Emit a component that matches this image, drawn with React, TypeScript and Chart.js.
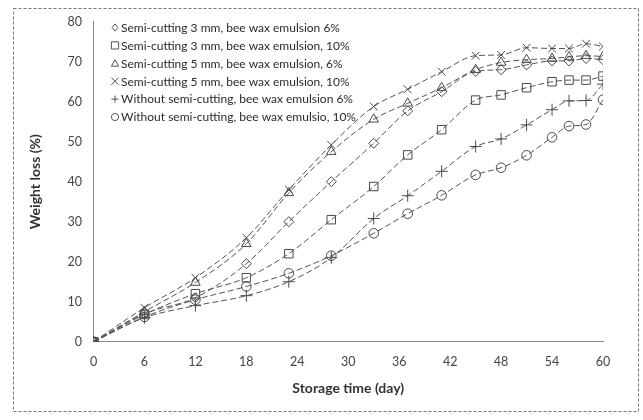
import React, { useEffect, useRef } from 'react';
import { Chart, registerables } from 'chart.js';

Chart.register(...registerables);

const days = [0, 6, 12, 18, 23, 28, 33, 37, 41, 45, 48, 51, 54, 56, 58, 60];
const seriesLabels = [
  'Semi-cutting 3 mm, bee wax emulsion 6%',
  'Semi-cutting 3 mm, bee wax emulsion, 10%',
  'Semi-cutting 5 mm, bee wax emulsion, 6%',
  'Semi-cutting 5 mm, bee wax emulsion, 10%',
  'Without semi-cutting, bee wax emulsion 6%',
  'Without semi-cutting, bee wax emulsio, 10%',
];
const cut3Wax6 = [0, 7, 11, 19.5, 30, 40, 49.6, 57.7, 62.5, 67.6, 68, 69.2, 70.2, 70.2, 70.8, 70.5];
const cut3Wax10 = [0, 6.8, 12, 16, 22, 30.5, 38.8, 46.7, 53, 60.4, 61.7, 63.5, 65, 65.4, 65.4, 66.4];
const cut5Wax6 = [0, 7.5, 14.8, 24.5, 37.2, 47.5, 55.6, 59.6, 63.5, 68, 69.8, 70.5, 70.8, 71.2, 71.5, 71.3];
const cut5Wax10 = [0, 8.5, 16, 26, 38, 49.2, 58.8, 63.1, 67.5, 71.5, 71.7, 73.5, 73.3, 73.3, 74.5, 73.8];
const noCutWax6 = [0, 6, 9, 11.5, 15, 21, 30.8, 36.5, 42.6, 48.8, 50.7, 54.2, 58, 60.2, 60.3, 64.4];
const noCutWax10 = [0, 6.2, 10.5, 13.8, 17.1, 21.5, 27.1, 32, 36.6, 41.7, 43.5, 46.6, 51.1, 53.9, 54.3, 60.5];
const xTicks = [0, 6, 12, 18, 24, 30, 36, 42, 48, 54, 60];
const yTicks = [0, 10, 20, 30, 40, 50, 60, 70, 80];

const seriesValues = [cut3Wax6, cut3Wax10, cut5Wax6, cut5Wax10, noCutWax6, noCutWax10];
const pointStyles = ['rectRot', 'rect', 'triangle', 'crossRot', 'cross', 'circle'];
const pointRadii = [5, 6, 5.5, 5.5, 6, 4.8];

const INK = '#4a4a4a';

function drawSymbol(ctx: CanvasRenderingContext2D, style: string, x: number, y: number, r: number) {
  ctx.beginPath();
  if (style === 'rectRot') {
    ctx.moveTo(x, y - r); ctx.lineTo(x + r * 0.8, y); ctx.lineTo(x, y + r); ctx.lineTo(x - r * 0.8, y); ctx.closePath();
  } else if (style === 'rect') {
    ctx.rect(x - r, y - r, 2 * r, 2 * r);
  } else if (style === 'triangle') {
    ctx.moveTo(x, y - r); ctx.lineTo(x + r, y + r * 0.8); ctx.lineTo(x - r, y + r * 0.8); ctx.closePath();
  } else if (style === 'crossRot') {
    ctx.moveTo(x - r, y - r); ctx.lineTo(x + r, y + r); ctx.moveTo(x + r, y - r); ctx.lineTo(x - r, y + r);
  } else if (style === 'cross') {
    ctx.moveTo(x - r, y); ctx.lineTo(x + r, y); ctx.moveTo(x, y - r); ctx.lineTo(x, y + r);
  } else {
    ctx.arc(x, y, r, 0, Math.PI * 2);
  }
  ctx.stroke();
}

const framePlugin = {
  id: 'frame',
  beforeDraw(chart: any) {
    const ctx = chart.ctx;
    ctx.save();
    ctx.fillStyle = '#ffffff';
    ctx.fillRect(0, 0, chart.width, chart.height);
    ctx.strokeStyle = '#777';
    ctx.lineWidth = 1;
    ctx.setLineDash([3, 2]);
    ctx.strokeRect(13.5, 8.5, 625, 403);
    ctx.restore();
  },
};

const legendPlugin = {
  id: 'customLegend',
  afterDraw(chart: any) {
    const ctx = chart.ctx;
    ctx.save();
    ctx.font = '12px Lato';
    ctx.textBaseline = 'middle';
    ctx.textAlign = 'left';
    seriesLabels.forEach((label, i) => {
      const y = 27.5 + i * 17.9;
      ctx.strokeStyle = '#555';
      ctx.lineWidth = 1;
      ctx.setLineDash([]);
      drawSymbol(ctx, pointStyles[i], 115, y, 3.6);
      ctx.fillStyle = '#2a2a2a';
      ctx.fillText(label, 121, y + 0.5);
    });
    ctx.restore();
  },
};

export default function App() {
  const ref = useRef<HTMLCanvasElement | null>(null);
  useEffect(() => {
    if (!ref.current) return;
    const datasets = seriesValues.map((vals, i) => ({
      label: seriesLabels[i],
      data: days.map((d, j) => ({ x: d, y: vals[j] })),
      borderColor: '#555',
      borderWidth: 1,
      borderDash: [6, 3],
      backgroundColor: 'rgba(0,0,0,0)',
      pointStyle: pointStyles[i],
      pointRadius: pointRadii[i],
      pointBorderColor: INK,
      pointBackgroundColor: 'rgba(0,0,0,0)',
      pointBorderWidth: 1,
      cubicInterpolationMode: 'monotone' as const,
      fill: false,
    }));
    const chart = new Chart(ref.current, {
      type: 'line',
      data: { datasets },
      options: {
        animation: false,
        responsive: false,
        maintainAspectRatio: false,
        devicePixelRatio: 1,
        layout: { padding: { left: 0, right: 40, top: 21.7, bottom: 0 } },
        plugins: { legend: { display: false }, tooltip: { enabled: false } },
        scales: {
          x: {
            type: 'linear',
            min: 0,
            max: 60,
            afterBuildTicks: (s: any) => { s.ticks = xTicks.map((v) => ({ value: v })); },
            afterFit: (s: any) => { s.height = 420 - 341.7; },
            grid: { display: false, drawTicks: false },
            border: { display: true, color: '#8a8a8a', dash: [2, 2], width: 1 },
            ticks: { font: { family: 'Lato', size: 12.5 }, color: '#444', padding: 13, maxRotation: 0 },
            title: {
              display: true,
              text: 'Storage time (day)',
              font: { family: 'Lato', size: 14, weight: 'bold' },
              color: '#333',
              padding: { top: 0, bottom: 23.6 },
            },
          },
          y: {
            type: 'linear',
            min: 0,
            max: 80,
            afterBuildTicks: (s: any) => { s.ticks = yTicks.map((v) => ({ value: v })); },
            afterFit: (s: any) => { s.width = 93.5; },
            grid: { display: false, drawTicks: false },
            border: { display: true, color: '#8a8a8a', dash: [2, 2], width: 1 },
            ticks: { font: { family: 'Lato', size: 12.5 }, color: '#444', padding: 11.5 },
            title: {
              display: true,
              text: 'Weight loss (%)',
              font: { family: 'Lato', size: 14, weight: 'bold' },
              color: '#333',
              padding: { top: 26.6, bottom: 0 },
            },
          },
        },
      },
      plugins: [framePlugin, legendPlugin],
    } as any);
    return () => chart.destroy();
  }, []);
  return (
    <div style={{ position: 'fixed', left: 0, top: 0, width: 643, height: 420, background: '#fff' }}>
      <canvas ref={ref} width={643} height={420} style={{ width: 643, height: 420, display: 'block' }} />
    </div>
  );
}
